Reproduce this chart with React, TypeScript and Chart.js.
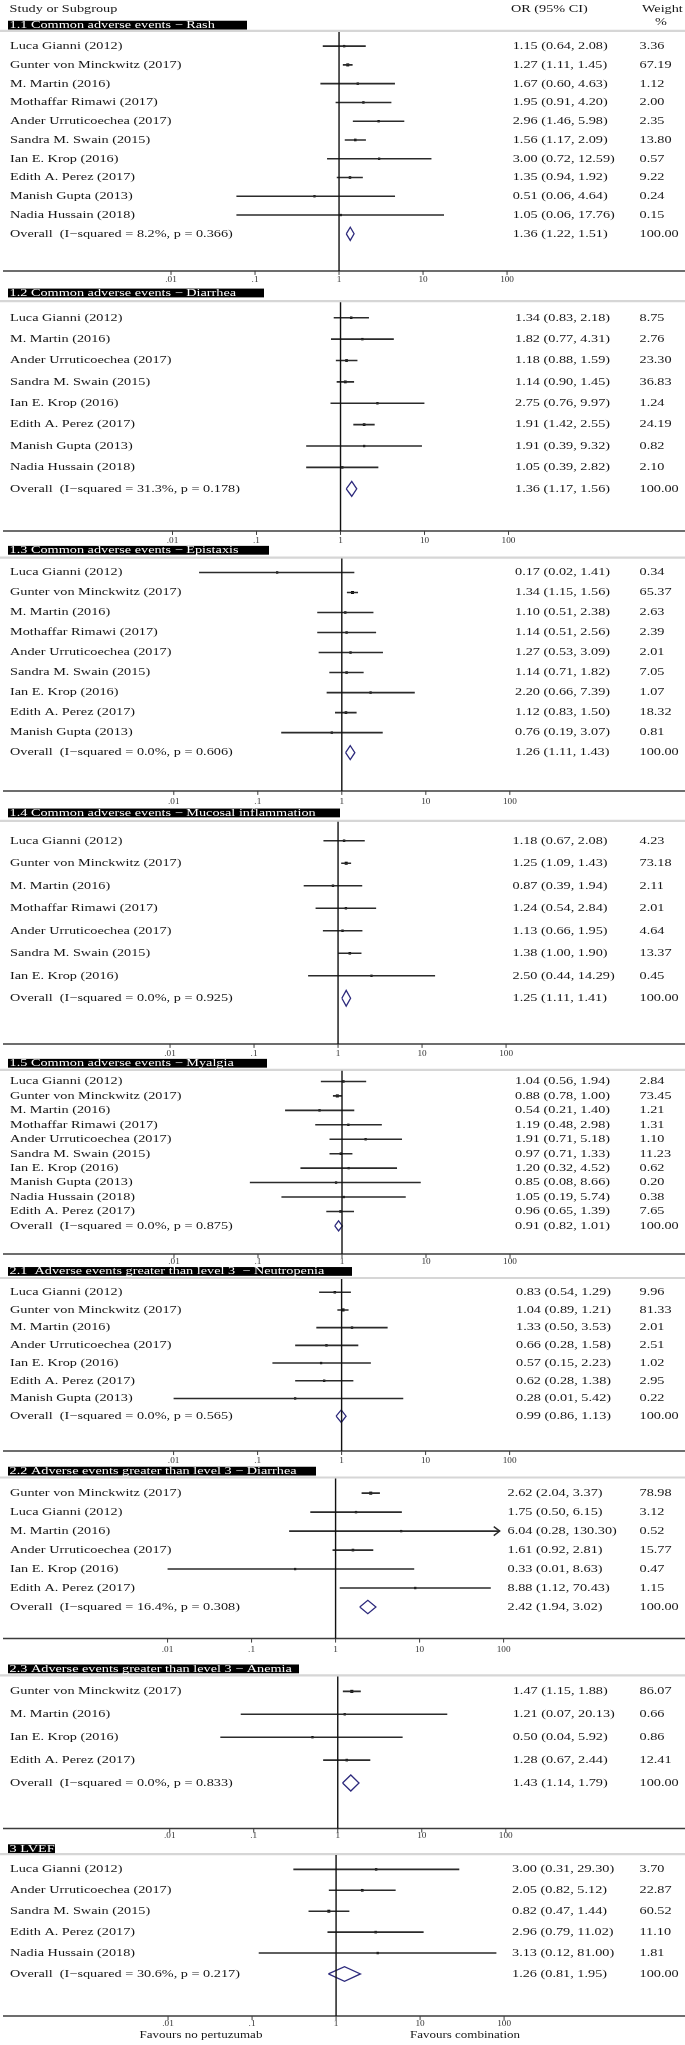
import React, { useEffect, useRef } from "react";
import { Chart, registerables } from "chart.js";

Chart.register(...registerables);

// ----------------------------- DATA -----------------------------
const subgroupTitles = [
  "1.1 Common adverse events \u2212 Rash",
  "1.2 Common adverse events \u2212 Diarrhea",
  "1.3 Common adverse events \u2212 Epistaxis",
  "1.4 Common adverse events \u2212 Mucosal inflammation",
  "1.5 Common adverse events \u2212 Myalgia",
  "2.1  Adverse events greater than level 3  \u2212 Neutropenia",
  "2.2 Adverse events greater than level 3 \u2212 Diarrhea",
  "2.3 Adverse events greater than level 3 \u2212 Anemia",
  "3 LVEF",
];

// 1.1 Rash
const rashStudies = ["Luca Gianni (2012)", "Gunter von Minckwitz (2017)", "M. Martin (2016)", "Mothaffar Rimawi (2017)", "Ander Urruticoechea (2017)", "Sandra M. Swain (2015)", "Ian E. Krop (2016)", "Edith A. Perez (2017)", "Manish Gupta (2013)", "Nadia Hussain (2018)"];
const rashOR = [1.15, 1.27, 1.67, 1.95, 2.96, 1.56, 3.0, 1.35, 0.51, 1.05];
const rashLo = [0.64, 1.11, 0.6, 0.91, 1.46, 1.17, 0.72, 0.94, 0.06, 0.06];
const rashHi = [2.08, 1.45, 4.63, 4.2, 5.98, 2.09, 12.59, 1.92, 4.64, 17.76];
const rashWt = [3.36, 67.19, 1.12, 2.0, 2.35, 13.8, 0.57, 9.22, 0.24, 0.15];

// 1.2 Diarrhea
const diarStudies = ["Luca Gianni (2012)", "M. Martin (2016)", "Ander Urruticoechea (2017)", "Sandra M. Swain (2015)", "Ian E. Krop (2016)", "Edith A. Perez (2017)", "Manish Gupta (2013)", "Nadia Hussain (2018)"];
const diarOR = [1.34, 1.82, 1.18, 1.14, 2.75, 1.91, 1.91, 1.05];
const diarLo = [0.83, 0.77, 0.88, 0.9, 0.76, 1.42, 0.39, 0.39];
const diarHi = [2.18, 4.31, 1.59, 1.45, 9.97, 2.55, 9.32, 2.82];
const diarWt = [8.75, 2.76, 23.3, 36.83, 1.24, 24.19, 0.82, 2.1];

// 1.3 Epistaxis
const epiStudies = ["Luca Gianni (2012)", "Gunter von Minckwitz (2017)", "M. Martin (2016)", "Mothaffar Rimawi (2017)", "Ander Urruticoechea (2017)", "Sandra M. Swain (2015)", "Ian E. Krop (2016)", "Edith A. Perez (2017)", "Manish Gupta (2013)"];
const epiOR = [0.17, 1.34, 1.1, 1.14, 1.27, 1.14, 2.2, 1.12, 0.76];
const epiLo = [0.02, 1.15, 0.51, 0.51, 0.53, 0.71, 0.66, 0.83, 0.19];
const epiHi = [1.41, 1.56, 2.38, 2.56, 3.09, 1.82, 7.39, 1.5, 3.07];
const epiWt = [0.34, 65.37, 2.63, 2.39, 2.01, 7.05, 1.07, 18.32, 0.81];

// 1.4 Mucosal inflammation
const mucStudies = ["Luca Gianni (2012)", "Gunter von Minckwitz (2017)", "M. Martin (2016)", "Mothaffar Rimawi (2017)", "Ander Urruticoechea (2017)", "Sandra M. Swain (2015)", "Ian E. Krop (2016)"];
const mucOR = [1.18, 1.25, 0.87, 1.24, 1.13, 1.38, 2.5];
const mucLo = [0.67, 1.09, 0.39, 0.54, 0.66, 1.0, 0.44];
const mucHi = [2.08, 1.43, 1.94, 2.84, 1.95, 1.9, 14.29];
const mucWt = [4.23, 73.18, 2.11, 2.01, 4.64, 13.37, 0.45];

// 1.5 Myalgia
const myaStudies = ["Luca Gianni (2012)", "Gunter von Minckwitz (2017)", "M. Martin (2016)", "Mothaffar Rimawi (2017)", "Ander Urruticoechea (2017)", "Sandra M. Swain (2015)", "Ian E. Krop (2016)", "Manish Gupta (2013)", "Nadia Hussain (2018)", "Edith A. Perez (2017)"];
const myaOR = [1.04, 0.88, 0.54, 1.19, 1.91, 0.97, 1.2, 0.85, 1.05, 0.96];
const myaLo = [0.56, 0.78, 0.21, 0.48, 0.71, 0.71, 0.32, 0.08, 0.19, 0.65];
const myaHi = [1.94, 1.0, 1.4, 2.98, 5.18, 1.33, 4.52, 8.66, 5.74, 1.39];
const myaWt = [2.84, 73.45, 1.21, 1.31, 1.1, 11.23, 0.62, 0.2, 0.38, 7.65];

// 2.1 Neutropenia
const neuStudies = ["Luca Gianni (2012)", "Gunter von Minckwitz (2017)", "M. Martin (2016)", "Ander Urruticoechea (2017)", "Ian E. Krop (2016)", "Edith A. Perez (2017)", "Manish Gupta (2013)"];
const neuOR = [0.83, 1.04, 1.33, 0.66, 0.57, 0.62, 0.28];
const neuLo = [0.54, 0.89, 0.5, 0.28, 0.15, 0.28, 0.01];
const neuHi = [1.29, 1.21, 3.53, 1.58, 2.23, 1.38, 5.42];
const neuWt = [9.96, 81.33, 2.01, 2.51, 1.02, 2.95, 0.22];

// 2.2 Diarrhea (grade >= 3)
const g3dStudies = ["Gunter von Minckwitz (2017)", "Luca Gianni (2012)", "M. Martin (2016)", "Ander Urruticoechea (2017)", "Ian E. Krop (2016)", "Edith A. Perez (2017)"];
const g3dOR = [2.62, 1.75, 6.04, 1.61, 0.33, 8.88];
const g3dLo = [2.04, 0.5, 0.28, 0.92, 0.01, 1.12];
const g3dHi = [3.37, 6.15, 130.3, 2.81, 8.63, 70.43];
const g3dWt = [78.98, 3.12, 0.52, 15.77, 0.47, 1.15];

// 2.3 Anemia
const aneStudies = ["Gunter von Minckwitz (2017)", "M. Martin (2016)", "Ian E. Krop (2016)", "Edith A. Perez (2017)"];
const aneOR = [1.47, 1.21, 0.5, 1.28];
const aneLo = [1.15, 0.07, 0.04, 0.67];
const aneHi = [1.88, 20.13, 5.92, 2.44];
const aneWt = [86.07, 0.66, 0.86, 12.41];

// 3 LVEF
const lvefStudies = ["Luca Gianni (2012)", "Ander Urruticoechea (2017)", "Sandra M. Swain (2015)", "Edith A. Perez (2017)", "Nadia Hussain (2018)"];
const lvefOR = [3.0, 2.05, 0.82, 2.96, 3.13];
const lvefLo = [0.31, 0.82, 0.47, 0.79, 0.12];
const lvefHi = [29.3, 5.12, 1.44, 11.02, 81.0];
const lvefWt = [3.7, 22.87, 60.52, 11.1, 1.81];

// Overall (pooled) estimates per subgroup
const overallOR = [1.36, 1.36, 1.26, 1.25, 0.91, 0.99, 2.42, 1.43, 1.26];
const overallLo = [1.22, 1.17, 1.11, 1.11, 0.82, 0.86, 1.94, 1.14, 0.81];
const overallHi = [1.51, 1.56, 1.43, 1.41, 1.01, 1.13, 3.02, 1.79, 1.95];
const overallI2 = ["8.2%", "31.3%", "0.0%", "0.0%", "0.0%", "0.0%", "16.4%", "0.0%", "30.6%"];
const overallP = ["0.366", "0.178", "0.606", "0.925", "0.875", "0.565", "0.308", "0.833", "0.217"];

// Axis ticks
const tickValues = [0.01, 0.1, 1, 10, 100];
const tickLabels = [".01", ".1", "1", "10", "100"];

const headerStudy = "Study or Subgroup";
const headerOR = "OR (95% CI)";
const headerWeight = "Weight";
const headerPct = "%";
const favoursLeft = "Favours no pertuzumab";
const favoursRight = "Favours combination";

const panelStudies = [rashStudies, diarStudies, epiStudies, mucStudies, myaStudies, neuStudies, g3dStudies, aneStudies, lvefStudies];
const panelOR = [rashOR, diarOR, epiOR, mucOR, myaOR, neuOR, g3dOR, aneOR, lvefOR];
const panelLo = [rashLo, diarLo, epiLo, mucLo, myaLo, neuLo, g3dLo, aneLo, lvefLo];
const panelHi = [rashHi, diarHi, epiHi, mucHi, myaHi, neuHi, g3dHi, aneHi, lvefHi];
const panelWt = [rashWt, diarWt, epiWt, mucWt, myaWt, neuWt, g3dWt, aneWt, lvefWt];

// ----------------------------- LAYOUT -----------------------------
const W = 685;
const H = 2045;
const DECADE_PX = 85;
const CLIP_MAX = 90; // upper display limit of the axis (arrow beyond)
const centerPx = [339, 340.5, 341.8, 338, 342, 341.6, 335.5, 337.7, 336];
const barTop = [16.8, 285.7, 544, 807.7, 1059, 1268, 1468.5, 1667, 1847.5];
const barRight = [247, 264, 269, 340, 267, 352, 316, 299, 55];
const grayY = [27, 298.3, 555.7, 820, 1070, 1279, 1479.3, 1678, 1857.3];
const row0 = [42.3, 315, 570.7, 840, 1081.7, 1293.3, 1495, 1694, 1872.7];
const rowStep = [18.84, 21.46, 20.1, 22.6, 14.5, 17.77, 19.05, 23, 21];
const axisY = [268, 529, 790, 1044, 1255, 1452.7, 1641, 1831.7, 2020];
const tickLabelY = [277.5, 539, 801, 1054, 1263.5, 1462.5, 1653, 1839.5, 2027.5];
const ciTextX = [512.7, 515, 515, 512.5, 515, 516, 507.5, 512.7, 512];
const WEIGHT_X = 639.5;
const NAME_X = 10;

const FONT = '"Liberation Serif", "Times New Roman", Times, serif';
const TXT = 10.8; // vertical font size
const SX = 1.32; // horizontal stretch of the reference's text

function drawText(ctx: CanvasRenderingContext2D, s: string, x: number, y: number, size: number, sx: number, align: CanvasTextAlign = "left", color = "#161616") {
  ctx.save();
  ctx.translate(x, y);
  ctx.scale(sx, 1);
  ctx.font = `${size}px ${FONT}`;
  ctx.textAlign = align;
  ctx.textBaseline = "middle";
  ctx.fillStyle = color;
  ctx.fillText(s, 0, 0);
  ctx.restore();
}

const fmt = (v: number) => v.toFixed(2);
const rowY = (p: number, i: number) => row0[p] + i * rowStep[p];

const forestPlugin = {
  id: "forest",
  beforeDatasetsDraw(chart: any) {
    const ctx: CanvasRenderingContext2D = chart.ctx;
    const ys = chart.scales.y;
    ctx.save();
    for (let p = 0; p < panelStudies.length; p++) {
      const xs = chart.scales["x" + p];
      const gy = ys.getPixelForValue(grayY[p]);
      ctx.strokeStyle = "#d6d6d6";
      ctx.lineWidth = 2.2;
      ctx.beginPath();
      ctx.moveTo(0, gy);
      ctx.lineTo(W, gy);
      ctx.stroke();
      const bt = ys.getPixelForValue(barTop[p]);
      ctx.fillStyle = "#000";
      ctx.fillRect(8, bt, barRight[p] - 8, 8.8);
      const ay = ys.getPixelForValue(axisY[p]);
      ctx.strokeStyle = "#3c3c3c";
      ctx.lineWidth = 1.5;
      ctx.beginPath();
      ctx.moveTo(3, ay);
      ctx.lineTo(W, ay);
      ctx.stroke();
      ctx.lineWidth = 1;
      for (const tv of tickValues) {
        const tx = xs.getPixelForValue(tv);
        ctx.beginPath();
        ctx.moveTo(tx, ay);
        ctx.lineTo(tx, ay + 4);
        ctx.stroke();
      }
    }
    ctx.restore();
  },
  afterDatasetsDraw(chart: any) {
    const ctx: CanvasRenderingContext2D = chart.ctx;
    const ys = chart.scales.y;
    drawText(ctx, headerStudy, 9.6, ys.getPixelForValue(5.5), TXT, SX);
    drawText(ctx, headerOR, 511, ys.getPixelForValue(5.5), TXT, SX);
    drawText(ctx, headerWeight, 642, ys.getPixelForValue(5.5), TXT, SX);
    drawText(ctx, headerPct, 661, ys.getPixelForValue(18), TXT, SX, "center");

    for (let p = 0; p < panelStudies.length; p++) {
      const xs = chart.scales["x" + p];
      drawText(ctx, subgroupTitles[p], 9.6, ys.getPixelForValue(barTop[p] + 4.6), TXT, SX, "left", "#fff");
      const names = panelStudies[p];
      for (let i = 0; i < names.length; i++) {
        const y = ys.getPixelForValue(rowY(p, i));
        drawText(ctx, names[i], NAME_X, y, TXT, SX);
        drawText(ctx, `${fmt(panelOR[p][i])} (${fmt(panelLo[p][i])}, ${fmt(panelHi[p][i])})`, ciTextX[p], y, TXT, SX);
        drawText(ctx, fmt(panelWt[p][i]), WEIGHT_X, y, TXT, SX);
        if (panelHi[p][i] > CLIP_MAX) {
          const px = xs.getPixelForValue(CLIP_MAX);
          ctx.save();
          ctx.strokeStyle = "#2b2b2b";
          ctx.lineWidth = 1.4;
          ctx.beginPath();
          ctx.moveTo(px - 6, y - 4.5);
          ctx.lineTo(px, y);
          ctx.lineTo(px - 6, y + 4.5);
          ctx.stroke();
          ctx.restore();
        }
      }
      const oy = ys.getPixelForValue(rowY(p, names.length));
      drawText(ctx, `Overall  (I\u2212squared = ${overallI2[p]}, p = ${overallP[p]})`, NAME_X, oy, TXT, SX);
      drawText(ctx, `${fmt(overallOR[p])} (${fmt(overallLo[p])}, ${fmt(overallHi[p])})`, ciTextX[p], oy, TXT, SX);
      drawText(ctx, "100.00", WEIGHT_X, oy, TXT, SX);
      const ty = ys.getPixelForValue(tickLabelY[p]);
      tickValues.forEach((tv, k) => {
        drawText(ctx, tickLabels[k], xs.getPixelForValue(tv), ty, 7.4, 1.25, "center", "#333");
      });
    }
    const fy = ys.getPixelForValue(2039);
    drawText(ctx, favoursLeft, 201, fy, 10, 1.3, "center");
    drawText(ctx, favoursRight, 465, fy, 10, 1.3, "center");
  },
};

function buildConfig(): any {
  const datasets: any[] = [];
  const scales: any = {
    y: { type: "linear", min: 0, max: H, reverse: true, display: false },
    x: { type: "linear", display: false },
  };
  for (let p = 0; p < panelStudies.length; p++) {
    const xid = "x" + p;
    const c = centerPx[p];
    scales[xid] = {
      type: "logarithmic",
      axis: "x",
      position: "bottom",
      display: false,
      bounds: "data",
      min: Math.pow(10, -c / DECADE_PX),
      max: Math.pow(10, (W - c) / DECADE_PX),
    };
    const n = panelStudies[p].length;
    datasets.push({
      type: "scatter",
      showLine: true,
      xAxisID: xid,
      data: [
        { x: 1, y: grayY[p] + 1 },
        { x: 1, y: axisY[p] },
      ],
      borderColor: "#111",
      borderWidth: 1.4,
      pointRadius: 0,
    });
    const ci: any[] = [];
    for (let i = 0; i < n; i++) {
      const y = rowY(p, i);
      ci.push({ x: panelLo[p][i], y }, { x: Math.min(panelHi[p][i], CLIP_MAX), y }, { x: 1, y: null });
    }
    datasets.push({
      type: "scatter",
      showLine: true,
      spanGaps: false,
      xAxisID: xid,
      data: ci,
      borderColor: "#2b2b2b",
      borderWidth: 1.6,
      pointRadius: 0,
    });
    const wts = panelWt[p];
    datasets.push({
      type: "scatter",
      xAxisID: xid,
      data: panelOR[p].map((v, i) => ({ x: v, y: rowY(p, i) })),
      pointStyle: "rect",
      pointRadius: (cx: any) => 1.6 + Math.sqrt(wts[cx.dataIndex] || 0) / 16,
      pointBackgroundColor: "#000",
      pointBorderColor: "#000",
      pointBorderWidth: 0,
    });
    const yo = rowY(p, n);
    const h = 0.35 * rowStep[p];
    datasets.push({
      type: "scatter",
      showLine: true,
      xAxisID: xid,
      data: [
        { x: overallLo[p], y: yo },
        { x: overallOR[p], y: yo - h },
        { x: overallHi[p], y: yo },
        { x: overallOR[p], y: yo + h },
        { x: overallLo[p], y: yo },
      ],
      borderColor: "#2e2b7d",
      borderWidth: 1.3,
      pointRadius: 0,
      fill: false,
      tension: 0,
    });
  }
  return {
    type: "scatter",
    data: { datasets },
    options: {
      animation: false,
      responsive: true,
      maintainAspectRatio: false,
      events: [],
      layout: { padding: 0 },
      scales,
      plugins: { legend: { display: false }, tooltip: { enabled: false } },
    },
    plugins: [forestPlugin],
  };
}

export default function App() {
  const ref = useRef<HTMLCanvasElement>(null);
  useEffect(() => {
    document.body.style.margin = "0";
    const chart = new Chart(ref.current as HTMLCanvasElement, buildConfig());
    return () => chart.destroy();
  }, []);
  return (
    <div style={{ position: "relative", width: W, height: H, background: "#fff" }}>
      <canvas ref={ref} />
    </div>
  );
}
